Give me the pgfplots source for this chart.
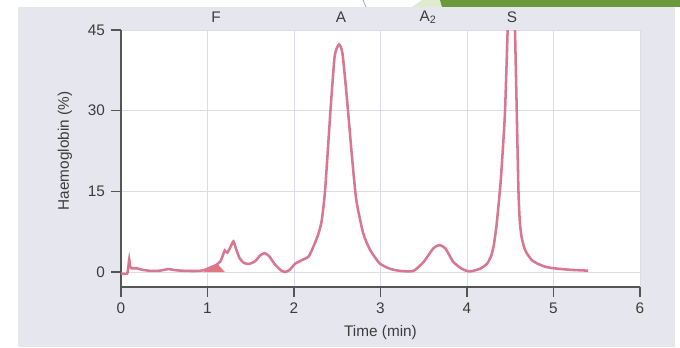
\documentclass[border=0pt]{standalone}
\usepackage{pgfplots}
\pgfplotsset{compat=1.18}
\usepackage{fontspec}
\setmainfont{Liberation Sans}
\definecolor{bgl}{RGB}{230,230,238}
\definecolor{gridc}{RGB}{220,220,232}
\definecolor{curve}{RGB}{215,119,145}
\definecolor{shade}{RGB}{226,118,128}
\definecolor{dgreen}{RGB}{106,153,60}
\definecolor{lgreen}{RGB}{224,234,204}
\definecolor{txt}{RGB}{60,60,60}
\definecolor{axc}{RGB}{85,85,85}
\begin{document}
\begin{tikzpicture}
\useasboundingbox (-90.75pt,-45pt) rectangle (419.25pt,215.25pt);
\fill[white] (-90.75pt,-45pt) rectangle (419.25pt,215.25pt);
\fill[bgl] (-77.25pt,-45pt) rectangle (415.5pt,210pt);
\fill[lgreen] (218.25pt,210pt) -- (225.75pt,215.25pt) -- (241pt,215.25pt) -- (241pt,210pt) -- cycle;
\fill[dgreen] (239.25pt,215.25pt) -- (419.25pt,215.25pt) -- (419.25pt,210pt) -- (240.75pt,210pt) -- cycle;
\draw[gray!70, line width=0.6pt] (181.5pt,215.25pt) -- (183.75pt,210pt);
\begin{axis}[
  at={(0,0)}, anchor=south west,
  scale only axis, width=389.25pt, height=192.75pt,
  xmin=0, xmax=6, ymin=-2.79, ymax=45,
  axis x line=bottom, axis y line=left,
  axis line style={-, axc, line width=1pt},
  xtick={0,1,2,3,4,5,6}, ytick={0,15,30,45},
  tick align=outside, major tick length=7.5pt,
  tick style={axc, line width=1pt},
  xmajorgrids, ymajorgrids,
  grid style={gridc, line width=0.75pt},
  axis background/.style={fill=white},
  clip mode=individual,
  font=\fontsize{11.5}{13}\selectfont,
  ticklabel style={txt},
  /pgf/number format/assume math mode=true,
  xticklabel style={yshift=-1pt},
  yticklabel style={xshift=-1pt},
  xlabel={Time (min)}, ylabel={Haemoglobin (\%)},
  xlabel style={at={(axis description cs:0.5,-0.179)}, anchor=center, txt},
  ylabel style={at={(axis description cs:-0.108,0.529)}, anchor=center, txt},
]
\addplot[draw=none, fill=shade] coordinates {
 (0.95,0) (1.00,0.45) (1.06,0.95) (1.12,1.4) (1.20,0) } -- cycle;
\addplot[curve, line width=1.9pt, smooth, tension=0.35] coordinates {
(0.0,-0.3) (0.07,-0.3) (0.085,1.0) (0.095,2.4) (0.105,1.0) (0.12,0.7)
(0.18,0.7) (0.25,0.4) (0.35,0.2) (0.45,0.25) (0.55,0.55) (0.62,0.35)
(0.75,0.2) (0.9,0.2) (0.97,0.4) (1.04,0.9) (1.10,1.3) (1.15,2.0)
(1.18,3.2) (1.20,4.0) (1.23,3.6) (1.27,4.8) (1.30,5.7) (1.33,4.3)
(1.37,2.6) (1.42,1.7) (1.48,1.5) (1.55,2.0) (1.61,3.1) (1.66,3.5)
(1.71,3.0) (1.78,1.4) (1.85,0.3) (1.90,0.0) (1.95,0.4) (2.01,1.5)
(2.09,2.2) (2.17,2.9) (2.24,5.3) (2.28,7.0) (2.32,9.5) (2.36,15.3)
(2.42,29.6) (2.47,40.1) (2.52,42.3) (2.56,40.7) (2.61,32.6) (2.67,21.5)
(2.72,13.4) (2.80,7.2) (2.88,4.1) (2.99,1.6) (3.11,0.6) (3.23,0.2)
(3.38,0.2) (3.50,1.9) (3.61,4.4) (3.68,5.0) (3.75,4.4) (3.84,1.9)
(3.94,0.6) (4.03,0.1) (4.15,0.6) (4.23,1.5) (4.28,3.0) (4.31,5.0)
(4.34,8.5) (4.365,12.5) (4.39,17) (4.415,23) (4.44,30) (4.47,45) (4.49,54)
(4.51,62) (4.52,63.5) (4.535,60) (4.555,45) (4.575,30) (4.595,15)
(4.61,9.5) (4.63,6.6) (4.66,4.6) (4.69,3.5) (4.75,2.2) (4.81,1.6)
(4.9,1.0) (5.0,0.7) (5.2,0.4) (5.4,0.25)
};
\node[txt, anchor=center] at (axis cs:1.1,45) [yshift=9.75pt] {F};
\node[txt, anchor=center] at (axis cs:2.543,45) [yshift=9.75pt] {A};
\node[txt, anchor=center] at (axis cs:3.55,45) [yshift=9.75pt] {A\textsubscript{2}};
\node[txt, anchor=center] at (axis cs:4.52,45) [yshift=9.75pt] {S};
\end{axis}
\end{tikzpicture}
\end{document}
